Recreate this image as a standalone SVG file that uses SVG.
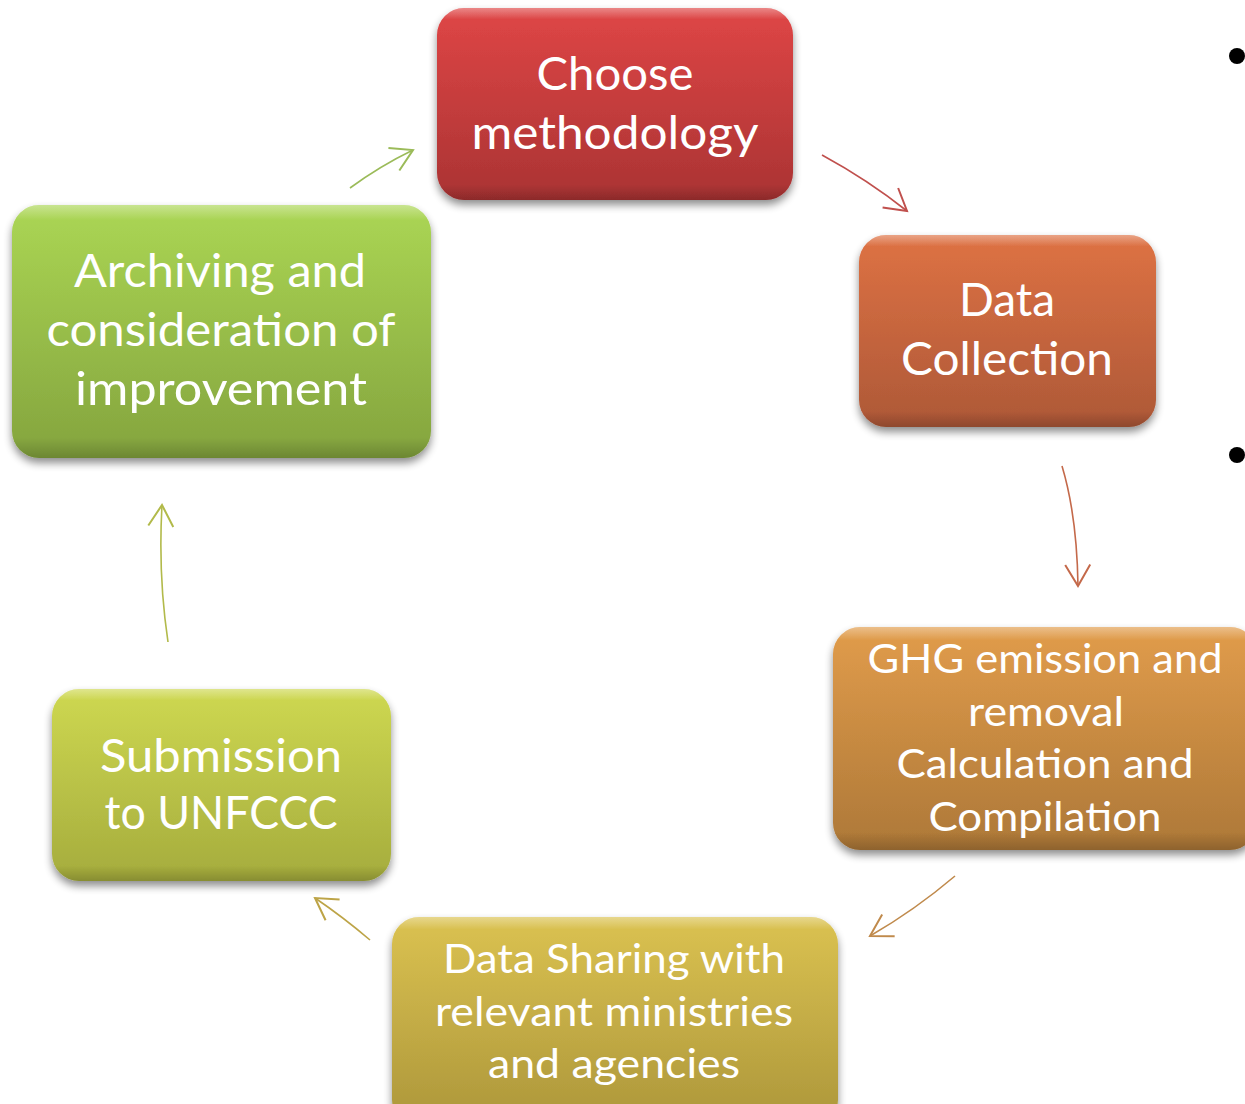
<svg xmlns="http://www.w3.org/2000/svg" width="1245" height="1104" viewBox="0 0 1245 1104">
<style>
  .t { font-family: Lato, "Open Sans", "Liberation Sans", sans-serif; fill: #ffffff; text-anchor: middle; }
  .big { font-size: 46px; }
  .mid { font-size: 40px; }
  .conn path { fill: none; stroke-width: 1.6; }
  .box { filter: url(#shadow); }
  .hl { fill: url(#hl); }
</style>
<defs>
  <filter id="shadow" x="-10%" y="-10%" width="120%" height="130%">
    <feGaussianBlur in="SourceAlpha" stdDeviation="4"/>
    <feOffset dx="0" dy="5" result="b"/>
    <feComponentTransfer><feFuncA type="linear" slope="0.45"/></feComponentTransfer>
    <feMerge><feMergeNode/><feMergeNode in="SourceGraphic"/></feMerge>
  </filter>
  <linearGradient id="hl" x1="0" y1="0" x2="0" y2="1">
    <stop offset="0" stop-color="#fff" stop-opacity="0.35"/>
    <stop offset="0.06" stop-color="#fff" stop-opacity="0"/>
    <stop offset="0.92" stop-color="#000" stop-opacity="0"/>
    <stop offset="1" stop-color="#000" stop-opacity="0.18"/>
  </linearGradient>
  <linearGradient id="gRed" x1="0" y1="0" x2="0" y2="1"><stop offset="0" stop-color="#df4646"/><stop offset="1" stop-color="#aa3333"/></linearGradient>
  <linearGradient id="gOr" x1="0" y1="0" x2="0" y2="1"><stop offset="0" stop-color="#de7244"/><stop offset="1" stop-color="#ad5837"/></linearGradient>
  <linearGradient id="gAm" x1="0" y1="0" x2="0" y2="1"><stop offset="0" stop-color="#e19c4b"/><stop offset="1" stop-color="#ad7838"/></linearGradient>
  <linearGradient id="gGo" x1="0" y1="0" x2="0" y2="1"><stop offset="0" stop-color="#dbc251"/><stop offset="1" stop-color="#ac963a"/></linearGradient>
  <linearGradient id="gYg" x1="0" y1="0" x2="0" y2="1"><stop offset="0" stop-color="#ced851"/><stop offset="1" stop-color="#a5ac3d"/></linearGradient>
  <linearGradient id="gGr" x1="0" y1="0" x2="0" y2="1"><stop offset="0" stop-color="#abd654"/><stop offset="1" stop-color="#84a43e"/></linearGradient>
  <marker id="m1" markerUnits="userSpaceOnUse" markerWidth="30" markerHeight="30" viewBox="-20 -12 22 24" refX="0" refY="0" orient="auto"><path d="M-17,-10 L0,0 L-17,10" fill="none" stroke="#c0504d" stroke-width="1.6"/></marker>
  <marker id="m2" markerUnits="userSpaceOnUse" markerWidth="30" markerHeight="30" viewBox="-20 -12 22 24" refX="0" refY="0" orient="auto"><path d="M-17,-10 L0,0 L-17,10" fill="none" stroke="#c4694a" stroke-width="1.6"/></marker>
  <marker id="m3" markerUnits="userSpaceOnUse" markerWidth="30" markerHeight="30" viewBox="-20 -12 22 24" refX="0" refY="0" orient="auto"><path d="M-17,-10 L0,0 L-17,10" fill="none" stroke="#c08a4c" stroke-width="1.6"/></marker>
  <marker id="m4" markerUnits="userSpaceOnUse" markerWidth="30" markerHeight="30" viewBox="-20 -12 22 24" refX="0" refY="0" orient="auto"><path d="M-17,-10 L0,0 L-17,10" fill="none" stroke="#bda447" stroke-width="1.6"/></marker>
  <marker id="m5" markerUnits="userSpaceOnUse" markerWidth="30" markerHeight="30" viewBox="-20 -12 22 24" refX="0" refY="0" orient="auto"><path d="M-17,-10 L0,0 L-17,10" fill="none" stroke="#b2ba4a" stroke-width="1.6"/></marker>
  <marker id="m6" markerUnits="userSpaceOnUse" markerWidth="30" markerHeight="30" viewBox="-20 -12 22 24" refX="0" refY="0" orient="auto"><path d="M-17,-10 L0,0 L-17,10" fill="none" stroke="#9bbb59" stroke-width="1.6"/></marker>
</defs>
<rect width="1245" height="1104" fill="#ffffff"/>

<g id="bullets">
  <circle cx="1237" cy="56" r="8" fill="#000"/>
  <circle cx="1237" cy="455" r="8" fill="#000"/>
</g>

<g id="connectors" class="conn">
  <path d="M822,155 Q868,180 907,211" stroke="#c0504d" marker-end="url(#m1)"/>
  <path d="M1062,466 Q1077,516 1078,586" stroke="#c4694a" marker-end="url(#m2)"/>
  <path d="M955,876 Q915,910 870,936" stroke="#c08a4c" marker-end="url(#m3)"/>
  <path d="M370,940 Q343,917 315,898" stroke="#bda447" marker-end="url(#m4)"/>
  <path d="M168,642 Q158,575 162,505" stroke="#b2ba4a" marker-end="url(#m5)"/>
  <path d="M350,188 Q380,166 413,150" stroke="#9bbb59" marker-end="url(#m6)"/>
</g>

<g id="node-choose">
  <rect class="box" x="437" y="8" width="356" height="192" rx="27" fill="url(#gRed)"/>
  <rect class="hl" x="437" y="8" width="356" height="192" rx="27"/>
  <text class="t big" x="615" y="90" textLength="157" lengthAdjust="spacingAndGlyphs">Choose</text>
  <text class="t big" x="615" y="149" textLength="287" lengthAdjust="spacingAndGlyphs">methodology</text>
</g>

<g id="node-data">
  <rect class="box" x="859" y="235" width="297" height="192" rx="27" fill="url(#gOr)"/>
  <rect class="hl" x="859" y="235" width="297" height="192" rx="27"/>
  <text class="t big" x="1007" y="316" textLength="96" lengthAdjust="spacingAndGlyphs">Data</text>
  <text class="t big" x="1007" y="375" textLength="212" lengthAdjust="spacingAndGlyphs">Collection</text>
</g>

<g id="node-ghg">
  <rect class="box" x="833" y="627" width="424" height="223" rx="27" fill="url(#gAm)"/>
  <rect class="hl" x="833" y="627" width="424" height="223" rx="27"/>
  <text class="t mid" x="1045" y="673" textLength="355" lengthAdjust="spacingAndGlyphs">GHG emission and</text>
  <text class="t mid" x="1046" y="726" textLength="156" lengthAdjust="spacingAndGlyphs">removal</text>
  <text class="t mid" x="1045" y="778" textLength="297" lengthAdjust="spacingAndGlyphs">Calculation and</text>
  <text class="t mid" x="1045" y="831" textLength="233" lengthAdjust="spacingAndGlyphs">Compilation</text>
</g>

<g id="node-share">
  <rect class="box" x="392" y="917" width="446" height="210" rx="27" fill="url(#gGo)"/>
  <rect class="hl" x="392" y="917" width="446" height="210" rx="27"/>
  <text class="t mid" x="614" y="973" textLength="342" lengthAdjust="spacingAndGlyphs">Data Sharing with</text>
  <text class="t mid" x="614" y="1026" textLength="358" lengthAdjust="spacingAndGlyphs">relevant ministries</text>
  <text class="t mid" x="614" y="1078" textLength="252" lengthAdjust="spacingAndGlyphs">and agencies</text>
</g>

<g id="node-submission">
  <rect class="box" x="52" y="689" width="339" height="192" rx="27" fill="url(#gYg)"/>
  <rect class="hl" x="52" y="689" width="339" height="192" rx="27"/>
  <text class="t big" x="221" y="772" textLength="242" lengthAdjust="spacingAndGlyphs">Submission</text>
  <text class="t big" x="221" y="829" textLength="233" lengthAdjust="spacingAndGlyphs">to UNFCCC</text>
</g>

<g id="node-archiving">
  <rect class="box" x="12" y="205" width="419" height="253" rx="27" fill="url(#gGr)"/>
  <rect class="hl" x="12" y="205" width="419" height="253" rx="27"/>
  <text class="t big" x="220" y="287" textLength="292" lengthAdjust="spacingAndGlyphs">Archiving and</text>
  <text class="t big" x="221" y="346" textLength="349" lengthAdjust="spacingAndGlyphs">consideration of</text>
  <text class="t big" x="221" y="405" textLength="292" lengthAdjust="spacingAndGlyphs">improvement</text>
</g>
</svg>
